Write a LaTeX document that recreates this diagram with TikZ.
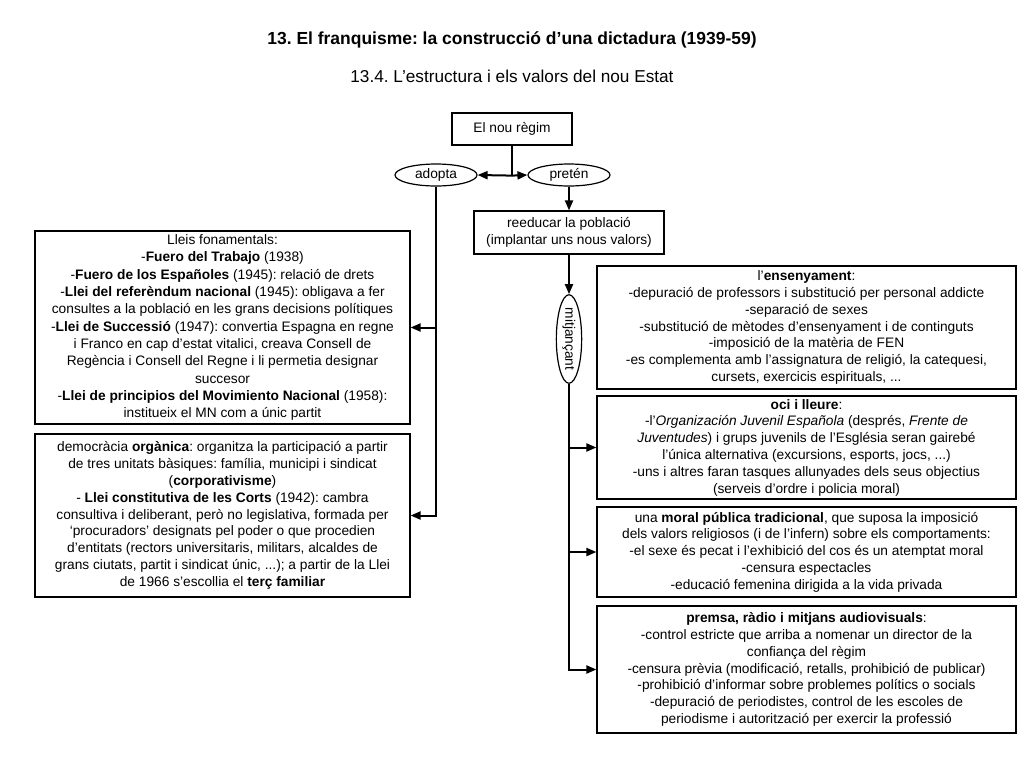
\documentclass[tikz,border=0pt]{standalone}
\usepackage{fontspec}
\setmainfont{Liberation Sans}
\usetikzlibrary{shapes.geometric,arrows.meta}
\begin{document}
\frenchspacing
\begin{tikzpicture}[x=0.75pt,y=-0.75pt,
  txt/.style={font=\fontsize{10.3}{12.6}\selectfont},
  box/.style={draw,line width=0.9pt,align=center,inner xsep=0pt,inner ysep=0.8pt,txt},
  ell/.style={draw,ellipse,line width=0.9pt,inner sep=0pt,txt},
  conn/.style={line width=1.5pt},
  arr/.style={line width=1.5pt,-{Triangle[length=7.5pt,width=6pt]}}]
\useasboundingbox[fill=white] (0,0) rectangle (1024,768);
\node[font=\bfseries\fontsize{13.1}{15}\selectfont] (title) at (512,40) {13. El franquisme: la construcció d’una dictadura (1939-59)};
\node[font=\fontsize{12.9}{15}\selectfont] (subtitle) at (512,76) {13.4. L’estructura i els valors del nou Estat};

\node[box,minimum width=90pt,minimum height=24pt] (regim) at (512,129) {El nou règim};
\node[ell,minimum width=61.5pt,minimum height=16.5pt] (adopta) at (436,175) {adopta};
\node[ell,minimum width=61.5pt,minimum height=16.5pt] (preten) at (569,175) {pretén};
\node[box,minimum width=142.5pt,minimum height=32.25pt] (reeducar) at (569,232.5) {reeducar la població\\(implantar uns nous valors)};

\node[box,font=\fontsize{10.3}{13}\selectfont,minimum width=281.25pt,minimum height=144.75pt] (lleis) at (222.5,327.5) {Lleis fonamentals:\\
-\textbf{Fuero del Trabajo} (1938)\\
-\textbf{Fuero de los Españoles} (1945): relació de drets\\
-\textbf{Llei del referèndum nacional} (1945): obligava a fer\\
consultes a la població en les grans decisions polítiques\\
-\textbf{Llei de Successió} (1947): convertia Espagna en regne\\
i Franco en cap d’estat vitalici, creava Consell de\\
Regència i Consell del Regne i li permetia designar\\
succesor\\
-\textbf{Llei de principios del Movimiento Nacional} (1958):\\
institueix el MN com a únic partit};

\node[box,minimum width=281.25pt,minimum height=122.25pt] (organica) at (222.5,515.5) {democràcia \textbf{orgànica}: organitza la participació a partir\\
de tres unitats bàsiques: família, municipi i sindicat\\
(\textbf{corporativisme})\\
- \textbf{Llei constitutiva de les Corts} (1942): cambra\\
consultiva i deliberant, però no legislativa, formada per\\
‘procuradors’ designats pel poder o que procedien\\
d’entitats (rectors universitaris, militars, alcaldes de\\
grans ciutats, partit i sindicat únic, ...); a partir de la Llei\\
de 1966 s’escollia el \textbf{terç familiar}};

\node[ell,minimum width=65pt,minimum height=19pt,rotate=-90] (mitj) at (569,339) {mitjançant};

\node[box,minimum width=314.25pt,minimum height=92.25pt] (ensenyament) at (806.5,327.5) {l’\textbf{ensenyament}:\\
-depuració de professors i substitució per personal addicte\\
-separació de sexes\\
-substitució de mètodes d’ensenyament i de continguts\\
-imposició de la matèria de FEN\\
-es complementa amb l’assignatura de religió, la catequesi,\\
cursets, exercicis espirituals, ...};

\node[box,minimum width=314.25pt,minimum height=77.25pt] (oci) at (806.5,447.5) {\textbf{oci i lleure}:\\
-l’\textit{Organización Juvenil Española} (després, \textit{Frente de}\\
\textit{Juventudes}) i grups juvenils de l’Església seran gairebé\\
l’única alternativa (excursions, esports, jocs, ...)\\
-uns i altres faran tasques allunyades dels seus objectius\\
(serveis d’ordre i policia moral)};

\node[box,minimum width=314.25pt,minimum height=67.5pt] (moral) at (806.5,552) {una \textbf{moral pública tradicional}, que suposa la imposició\\
dels valors religiosos (i de l’infern) sobre els comportaments:\\
-el sexe és pecat i l’exhibició del cos és un atemptat moral\\
-censura espectacles\\
-educació femenina dirigida a la vida privada};

\node[box,minimum width=314.25pt,minimum height=95.25pt] (premsa) at (806.5,669.5) {\textbf{premsa, ràdio i mitjans audiovisuals}:\\
-control estricte que arriba a nomenar un director de la\\
confiança del règim\\
-censura prèvia (modificació, retalls, prohibició de publicar)\\
-prohibició d’informar sobre problemes polítics o socials\\
-depuració de periodistes, control de les escoles de\\
periodisme i autorització per exercir la professió};

% connectors
\draw[conn] (regim.south) -- ++(0,30) coordinate (j);
\draw[arr] (j) -- (adopta.east);
\draw[arr] (j) -- (preten.west);
\draw[arr] (preten.south) -- (reeducar.north);
\draw[arr] (adopta.south) |- (organica.east);
\draw[arr] (adopta.south |- lleis.east) -- (lleis.east);
\draw[arr] (reeducar.south) -- (mitj.west);
\draw[arr] (mitj.east) |- (premsa.west);
\draw[arr] (mitj.east |- oci.west) -- (oci.west);
\draw[arr] (mitj.east |- moral.west) -- (moral.west);
\end{tikzpicture}
\end{document}
